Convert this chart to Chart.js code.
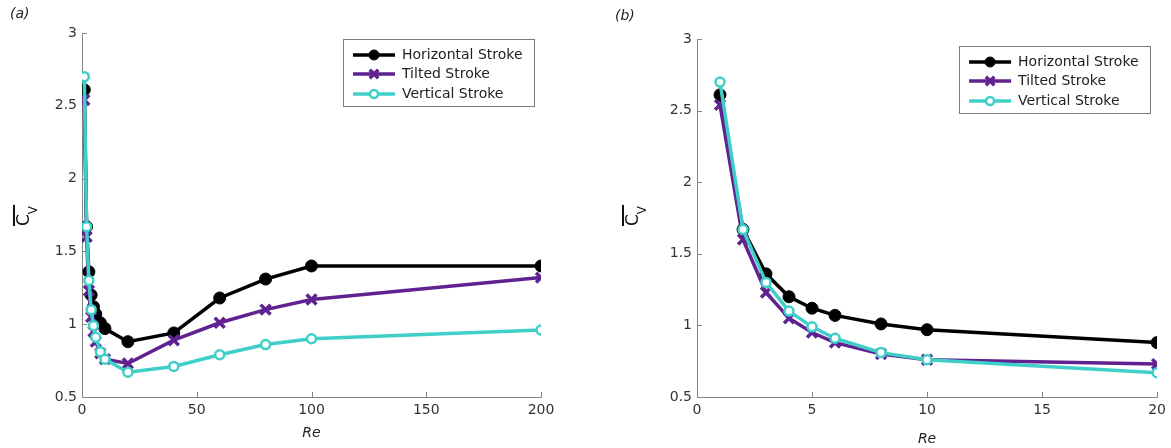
<!DOCTYPE html>
<html>
<head>
<meta charset="utf-8">
<script src="https://cdn.jsdelivr.net/npm/chart.js@4/dist/chart.umd.min.js"></script>
<style>
  html, body { margin: 0; padding: 0; background: #fff; }
  #wrap { position: relative; width: 1171px; height: 448px; }
  .panel { position: absolute; top: 0; height: 448px; }
  #panelA { left: 0; width: 585px; }
  #panelB { left: 585px; width: 586px; }
</style>
</head>
<body>
<div id="wrap">
  <div class="panel" id="panelA"><canvas id="chartA"></canvas></div>
  <div class="panel" id="panelB"><canvas id="chartB"></canvas></div>
</div>
<script>
// values
const reValues   = [1, 2, 3, 4, 5, 6, 8, 10, 20, 40, 60, 80, 100, 200];
const horizontal = [2.61, 1.67, 1.36, 1.20, 1.12, 1.07, 1.01, 0.97, 0.88, 0.94, 1.18, 1.31, 1.40, 1.40];
const tilted     = [2.54, 1.60, 1.23, 1.05, 0.95, 0.88, 0.80, 0.76, 0.73, 0.89, 1.01, 1.10, 1.17, 1.32];
const vertical   = [2.70, 1.67, 1.30, 1.10, 0.99, 0.91, 0.81, 0.76, 0.67, 0.71, 0.79, 0.86, 0.90, 0.96];
const seriesNames = ["Horizontal Stroke", "Tilted Stroke", "Vertical Stroke"];
const yTicks  = [0.5, 1, 1.5, 2, 2.5, 3];
const xTicksA = [0, 50, 100, 150, 200];
const xTicksB = [0, 5, 10, 15, 20];

const BLACK = "#000000";
const PURPLE = "#5f2290";
const TEAL = "#3fcfc8";
const AXIS = "#858585";
const FONT = "'DejaVu Sans', Arial, sans-serif";

function buildDatasets(maxRe) {
    const pts = arr => reValues
        .map((x, i) => ({ x: x, y: arr[i] }))
        .filter(p => p.x <= maxRe);
    return [
        {
            label: seriesNames[0], data: pts(horizontal),
            borderColor: BLACK, backgroundColor: BLACK,
            pointBackgroundColor: BLACK, pointBorderColor: BLACK,
            pointStyle: "circle", pointRadius: 6, pointBorderWidth: 1,
            borderWidth: 3.5, order: 3,
        },
        {
            label: seriesNames[1], data: pts(tilted),
            borderColor: PURPLE, backgroundColor: PURPLE,
            pointBorderColor: PURPLE,
            pointStyle: "crossRot", pointRadius: 7, pointBorderWidth: 3.5,
            borderWidth: 3.5, order: 2,
        },
        {
            label: seriesNames[2], data: pts(vertical),
            borderColor: TEAL, backgroundColor: "#ffffff",
            pointBackgroundColor: "#ffffff", pointBorderColor: TEAL,
            pointStyle: "circle", pointRadius: 4.5, pointBorderWidth: 2.5,
            borderWidth: 3.5, order: 1,
        },
    ];
}

function drawMarker(ctx, ds, x, y, r) {
    ctx.save();
    ctx.strokeStyle = ds.pointBorderColor;
    ctx.lineWidth = ds.pointBorderWidth;
    if (ds.pointStyle === "crossRot") {
        const d = r * 0.707;
        ctx.beginPath();
        ctx.moveTo(x - d, y - d); ctx.lineTo(x + d, y + d);
        ctx.moveTo(x + d, y - d); ctx.lineTo(x - d, y + d);
        ctx.stroke();
    } else {
        ctx.beginPath();
        ctx.arc(x, y, r, 0, Math.PI * 2);
        ctx.fillStyle = ds.pointBackgroundColor;
        ctx.fill();
        ctx.stroke();
    }
    ctx.restore();
}

// inward ticks, MATLAB style legend, y title and panel letter
const overlayPlugin = {
    id: "overlay",
    beforeDatasetsDraw(chart) {
        const ctx = chart.ctx;
        const xs = chart.scales.x, ys = chart.scales.y;
        const area = chart.chartArea;
        ctx.save();
        ctx.strokeStyle = AXIS;
        ctx.lineWidth = 1;
        ctx.beginPath();
        xs.ticks.forEach(t => {
            const px = Math.round(xs.getPixelForValue(t.value)) + 0.5;
            ctx.moveTo(px, area.bottom);
            ctx.lineTo(px, area.bottom - 5);
        });
        ys.ticks.forEach(t => {
            const py = Math.round(ys.getPixelForValue(t.value)) + 0.5;
            ctx.moveTo(area.left, py);
            ctx.lineTo(area.left + 5, py);
        });
        ctx.stroke();
        ctx.restore();
    },
    afterDraw(chart, args, opts) {
        const ctx = chart.ctx;
        const area = chart.chartArea;
        ctx.save();

        // legend box
        const bw = 191, bh = 67;
        const bx = area.right - 7 - bw;
        const by = area.top + opts.legendTop;
        ctx.fillStyle = "#ffffff";
        ctx.fillRect(bx, by, bw, bh);
        ctx.strokeStyle = "#7a7a7a";
        ctx.lineWidth = 1;
        ctx.strokeRect(Math.round(bx) + 0.5, Math.round(by) + 0.5, bw, bh);
        const rows = [16, 35, 55];
        chart.data.datasets.forEach((ds, i) => {
            const y = by + rows[i];
            ctx.strokeStyle = ds.borderColor;
            ctx.lineWidth = 3.5;
            ctx.beginPath();
            ctx.moveTo(bx + 10, y);
            ctx.lineTo(bx + 52, y);
            ctx.stroke();
            drawMarker(ctx, ds, bx + 31, y, ds.pointStyle === "crossRot" ? 6 : (i === 0 ? 5 : 4));
            ctx.fillStyle = "#222";
            ctx.font = "14px " + FONT;
            ctx.textAlign = "left";
            ctx.textBaseline = "middle";
            ctx.fillText(ds.label, bx + 59, y);
        });

        // y axis title: C with overline, subscript V
        ctx.translate(opts.titleX, 226);
        ctx.rotate(-Math.PI / 2);
        ctx.fillStyle = "#111";
        ctx.textAlign = "left";
        ctx.textBaseline = "alphabetic";
        ctx.font = "17px " + FONT;
        ctx.fillText("C", 0, 0);
        const cw = ctx.measureText("C").width;
        ctx.font = "12px " + FONT;
        ctx.fillText("V", cw, 8);
        const vw = ctx.measureText("V").width;
        ctx.fillRect(0, -16, cw + vw + 1, 2);
        ctx.setTransform(1, 0, 0, 1, 0, 0);

        // panel letter
        ctx.fillStyle = "#222";
        ctx.font = "italic 14px " + FONT;
        ctx.textAlign = "left";
        ctx.textBaseline = "middle";
        ctx.fillText(opts.letter, opts.letterX, opts.letterY);
        ctx.restore();
    },
};

function makeChart(id, cfg) {
    return new Chart(document.getElementById(id), {
        type: "line",
        data: { datasets: buildDatasets(cfg.xMax) },
        options: {
            responsive: true,
            maintainAspectRatio: false,
            animation: false,
            events: [],
            layout: { padding: cfg.padding },
            plugins: {
                legend: { display: false },
                tooltip: { enabled: false },
                overlay: cfg.overlay,
            },
            elements: { line: { tension: 0 } },
            scales: {
                x: {
                    type: "linear",
                    min: 0,
                    max: cfg.xMax,
                    afterBuildTicks: s => { s.ticks = cfg.xTicks.map(v => ({ value: v })); },
                    afterFit: s => { s.height = 51; },
                    ticks: {
                        color: "#333",
                        font: { family: FONT, size: 14 },
                        padding: 5,
                        maxRotation: 0,
                        callback: v => String(v),
                    },
                    grid: { display: true, drawOnChartArea: false, drawTicks: false },
                    border: { color: AXIS, width: 1 },
                    title: {
                        display: true,
                        text: "Re",
                        color: "#222",
                        font: { family: FONT, size: 14, style: "italic" },
                        padding: { top: 0, bottom: cfg.reBottom },
                    },
                },
                y: {
                    min: 0.5,
                    max: 3,
                    afterBuildTicks: s => { s.ticks = yTicks.map(v => ({ value: v })); },
                    afterFit: s => { s.width = cfg.yWidth; },
                    ticks: {
                        color: "#333",
                        font: { family: FONT, size: 14 },
                        padding: 5,
                        callback: v => String(v),
                    },
                    grid: { display: true, drawOnChartArea: false, drawTicks: false },
                    border: { color: AXIS, width: 1 },
                },
            },
        },
        plugins: [overlayPlugin],
    });
}

makeChart("chartA", {
    xMax: 200,
    xTicks: xTicksA,
    padding: { left: 0, right: 44, top: 33, bottom: 0 },
    yWidth: 82,
    reBottom: 6,
    overlay: { legendTop: 6, titleX: 29, letter: "(a)", letterX: 10, letterY: 14 },
});

makeChart("chartB", {
    xMax: 20,
    xTicks: xTicksB,
    padding: { left: 0, right: 13, top: 39, bottom: 0 },
    yWidth: 112,
    reBottom: 0,
    overlay: { legendTop: 7, titleX: 53, letter: "(b)", letterX: 30, letterY: 16 },
});
</script>
</body>
</html>
